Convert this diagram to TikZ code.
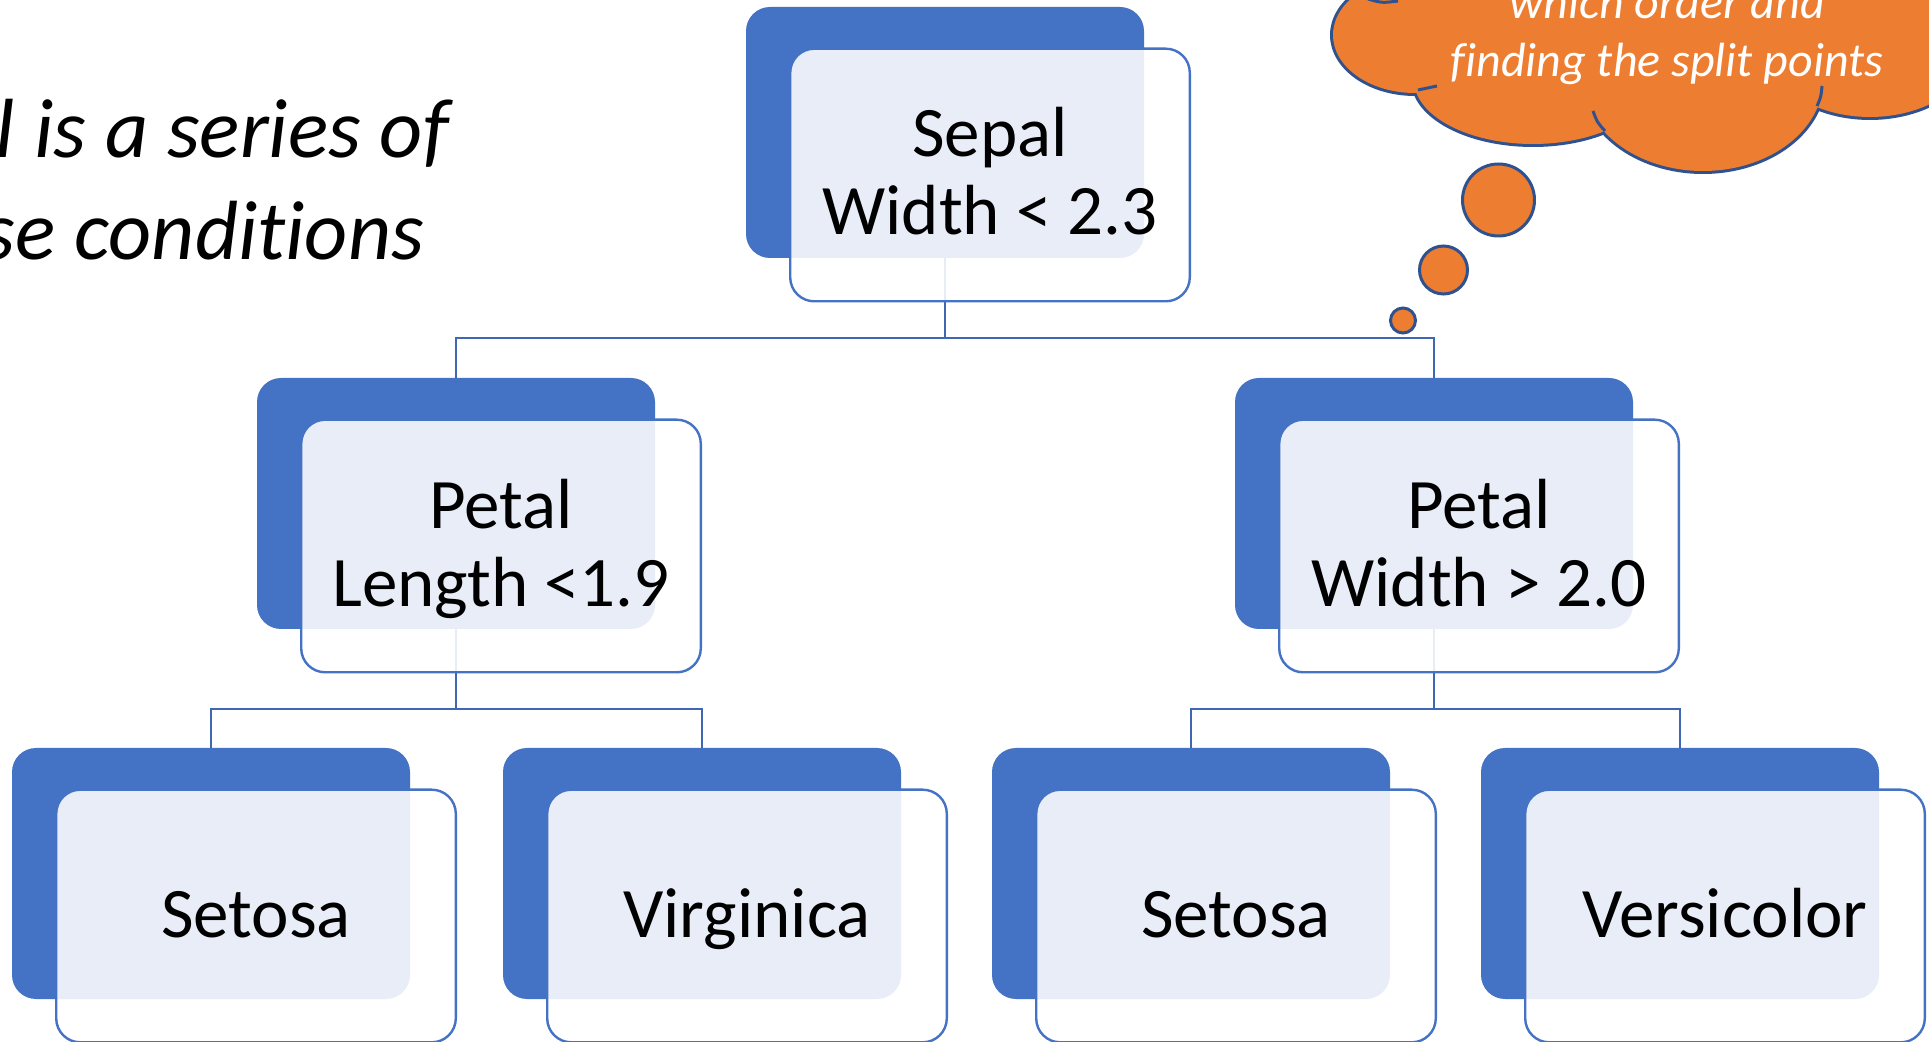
\documentclass[tikz,border=0pt]{standalone}
\usepackage{fontspec}
\setmainfont{Carlito}[Ligatures=NoCommon]
\usetikzlibrary{calc}
\definecolor{accblue}{HTML}{4472C4}
\definecolor{connblue}{HTML}{3F67B3}
\definecolor{cloudorange}{HTML}{ED7D31}
\definecolor{cloudline}{HTML}{2F528F}
\begin{document}
\begin{tikzpicture}[x=0.5pt,y=-0.5pt,
  backbox/.style={fill=accblue, draw=none, rounded corners=12pt, minimum width=199pt, minimum height=125.5pt, inner sep=0pt, outer sep=0pt},
  frontbox/.style={fill=white, fill opacity=0.88, draw=accblue, line width=1.2pt, rounded corners=12pt, minimum width=199.8pt, minimum height=126.3pt, inner sep=0pt, outer sep=0pt},
  lbl/.style={anchor=base, inner sep=0pt, outer sep=0pt, text=black, font=\fontsize{35.5}{39}\selectfont},
  conn/.style={draw=connblue, line width=1.3pt},
  cloudedge/.style={draw=cloudline, line width=1.5pt},
  bubble/.style={circle, fill=cloudorange, draw=cloudline, line width=1.5pt, inner sep=0pt, outer sep=0pt},
  cloudtext/.style={anchor=base, inner sep=0pt, text=white, font=\itshape\fontsize{24}{29.2}\selectfont},
  sidetext/.style={inner sep=0pt, outer sep=0pt, text=black, font=\itshape\fontsize{42}{51}\selectfont}]
\useasboundingbox (0,0) rectangle (1929,1042);
\fill[white] (0,0) rectangle (1929,1042);

% side text (cut off at the left edge)
\node[sidetext, anchor=base west] (lt1) at (-4,158) {l is a series of};
\node[sidetext, anchor=base east] (lt2) at (424,260) {se conditions};

% back (blue) boxes
\node[backbox] (b0) at (945,132.5) {};
\node[backbox] (b1) at (456,503.5) {};
\node[backbox] (b2) at (1434,503.5) {};
\node[backbox] (b3) at (211,873.5) {};
\node[backbox] (b4) at (702,873.5) {};
\node[backbox] (b5) at (1191,873.5) {};
\node[backbox] (b6) at (1680,873.5) {};

% connectors
\coordinate (h1) at (0,338);
\coordinate (h2) at (0,709);
\draw[conn] (b0.south) -- (b0.south |- h1) -| (b1.north);
\draw[conn] (b0.south |- h1) -| (b2.north);
\draw[conn] (b1.south) -- (b1.south |- h2) -| (b3.north);
\draw[conn] (b1.south |- h2) -| (b4.north);
\draw[conn] (b2.south) -- (b2.south |- h2) -| (b5.north);
\draw[conn] (b2.south |- h2) -| (b6.north);

% front (white, translucent) boxes
\node[frontbox] (f0) at ($(b0.center)+(45,42.5)$) {};
\node[frontbox] (f1) at ($(b1.center)+(45,42.5)$) {};
\node[frontbox] (f2) at ($(b2.center)+(45,42.5)$) {};
\node[frontbox] (f3) at ($(b3.center)+(45,42.5)$) {};
\node[frontbox] (f4) at ($(b4.center)+(45,42.5)$) {};
\node[frontbox] (f5) at ($(b5.center)+(45,42.5)$) {};
\node[frontbox] (f6) at ($(b6.center)+(45,42.5)$) {};

% labels
\node[lbl] (t0) at (990,235) {\begin{tabular}[b]{@{}c@{}}Sepal\\Width < 2.3\end{tabular}};
\node[lbl] (t1) at (501,607) {\begin{tabular}[b]{@{}c@{}}Petal\\Length <1.9\end{tabular}};
\node[lbl] (t2) at (1479,607) {\begin{tabular}[b]{@{}c@{}}Petal\\Width > 2.0\end{tabular}};
\node[lbl] (t3) at (256,937) {Setosa};
\node[lbl] (t4) at (747,937) {Virginica};
\node[lbl] (t5) at (1236,937) {Setosa};
\node[lbl] (t6) at (1725,937) {Versicolor};

% thought cloud
\draw[draw=cloudline, line width=3pt]
  (1415,35) ellipse [x radius=41pt, y radius=29pt]
  (1533,80) ellipse [x radius=59.5pt, y radius=32pt]
  (1703,80) ellipse [x radius=60pt, y radius=45.5pt]
  (1870,40) ellipse [x radius=54pt, y radius=38.5pt];
\fill[cloudorange]
  (1415,35) ellipse [x radius=41pt, y radius=29pt]
  (1533,80) ellipse [x radius=59.5pt, y radius=32pt]
  (1703,80) ellipse [x radius=60pt, y radius=45.5pt]
  (1870,40) ellipse [x radius=54pt, y radius=38.5pt];
\fill[cloudorange] (1380,-60) -- (1380,30) -- (1500,90) -- (1700,110) -- (1830,60) -- (1950,60) -- (1950,-60) -- cycle;
\draw[cloudedge] (1418,90) .. controls (1427,88) .. (1437,86);
\draw[cloudedge] (1605,131) .. controls (1597,122) .. (1593,111);
\draw[cloudedge] (1817,106) .. controls (1821,97) .. (1822,86);
\draw[cloudedge] (1368,-1) .. controls (1382,3) .. (1398,1);
\node[cloudtext] (ct) at (1667,77) {\begin{tabular}[b]{@{}c@{}}which order and\\finding the split points\end{tabular}};

\node[bubble, minimum size=36pt] (bub1) at (1498.5,200) {};
\node[bubble, minimum size=24pt] (bub2) at (1443.5,270) {};
\node[bubble, minimum size=12.5pt] (bub3) at (1403,320.5) {};
\end{tikzpicture}
\end{document}
